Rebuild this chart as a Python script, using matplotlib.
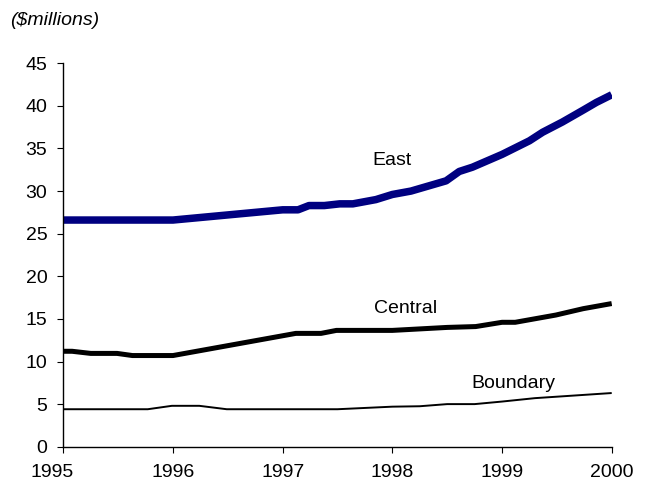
import matplotlib.pyplot as plt
from matplotlib.transforms import ScaledTranslation

plt.rcParams['font.family'] = ['Liberation Sans', 'DejaVu Sans']

# Revenue by region, $ millions (x = decimal year)
east_x = [1995.0, 1996.0, 1997.0, 1997.14, 1997.24, 1997.38, 1997.52, 1997.64,
          1997.85, 1998.0, 1998.17, 1998.49, 1998.61, 1998.73, 1999.0, 1999.25,
          1999.37, 1999.55, 1999.74, 1999.86, 2000.0]
east_y = [26.6, 26.6, 27.8, 27.8, 28.3, 28.3, 28.5, 28.5,
          29.0, 29.6, 30.0, 31.2, 32.3, 32.8, 34.3, 35.9,
          36.9, 38.1, 39.5, 40.4, 41.3]

central_x = [1995.0, 1995.08, 1995.25, 1995.49, 1995.63, 1996.0, 1997.12, 1997.35,
             1997.49, 1998.0, 1998.5, 1998.76, 1999.0, 1999.12, 1999.49, 1999.74, 2000.0]
central_y = [11.2, 11.2, 10.95, 10.95, 10.7, 10.7, 13.3, 13.3,
             13.65, 13.65, 14.0, 14.1, 14.6, 14.6, 15.45, 16.2, 16.8]

boundary_x = [1995.0, 1995.77, 1995.99, 1996.24, 1996.49, 1997.5, 1998.0, 1998.25,
              1998.5, 1998.75, 1999.0, 1999.3, 2000.0]
boundary_y = [4.4, 4.4, 4.8, 4.8, 4.4, 4.4, 4.7, 4.75,
              5.0, 5.0, 5.3, 5.7, 6.3]

years = [1995, 1996, 1997, 1998, 1999, 2000]
y_ticks = list(range(0, 50, 5))

fs = 14

fig = plt.figure(figsize=(6.48, 4.94), dpi=100)
ax = fig.add_axes([0.0977, 0.0957, 0.8463, 0.7763])

ax.plot(east_x, east_y, color='#000080', lw=5.4, solid_capstyle='butt')
ax.plot(central_x, central_y, color='black', lw=3.6, solid_capstyle='butt')
ax.plot(boundary_x, boundary_y, color='black', lw=1.4, solid_capstyle='butt')

ax.text(1998.0, 33.6, 'East', fontsize=fs, ha='center', va='center')
ax.text(1998.12, 16.25, 'Central', fontsize=fs, ha='center', va='center')
ax.text(1999.1, 7.46, 'Boundary', fontsize=fs, ha='center', va='center')

ax.set_xlim(1995, 2000)
ax.set_ylim(0, 45)
ax.set_xticks(years)
ax.set_xticklabels([str(y) for y in years])
ax.set_yticks(y_ticks)

for side in ['top', 'right']:
    ax.spines[side].set_visible(False)
for side in ['left', 'bottom']:
    ax.spines[side].set_linewidth(1.0)

ax.tick_params(axis='both', direction='out', length=4.5, width=0.8, labelsize=fs)
ax.tick_params(axis='x', pad=8)
ax.tick_params(axis='y', pad=7)

# first year label sits left of its tick so it clears the "0"
first = ax.get_xticklabels()[0]
first.set_transform(first.get_transform() + ScaledTranslation(-0.11, 0, fig.dpi_scale_trans))

fig.text(0.015, 0.958, '($millions)', fontsize=fs, style='italic', ha='left', va='center')

fig.savefig('out.png', dpi=100)
